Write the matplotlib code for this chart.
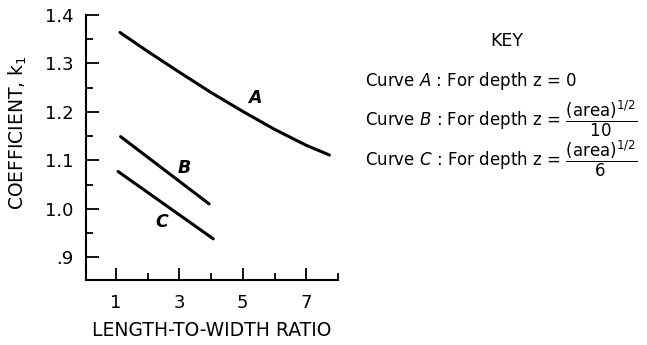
import numpy as np
import matplotlib
matplotlib.use("Agg")
import matplotlib.pyplot as plt
from matplotlib.ticker import FixedLocator

plt.rcParams['font.family'] = ['DejaVu Sans']
plt.rcParams['mathtext.fontset'] = 'dejavusans'

# curve values
a_x = [1.13, 2.0, 3.0, 4.0, 5.0, 6.0, 7.0, 7.73]
a_y = [1.364, 1.325, 1.282, 1.240, 1.201, 1.164, 1.131, 1.111]
b_x = [1.15, 3.94]
b_y = [1.149, 1.010]
c_x = [1.07, 4.07]
c_y = [1.077, 0.938]

curve_labels = ['A', 'B', 'C']
label_pos = [(5.37, 1.228), (3.16, 1.085), (2.44, 0.973)]

x_ticks = [1, 3, 5, 7]
y_ticks = [0.9, 1.0, 1.1, 1.2, 1.3, 1.4]
y_ticklabels = ['.9', '1.0', '1.1', '1.2', '1.3', '1.4']

W, H = 647, 345
fig = plt.figure(figsize=(W / 100, H / 100), dpi=100)
ax = fig.add_axes([86 / W, 1 - 280 / H, (338 - 86) / W, (280 - 15) / H])

for xs, ys in [(a_x, a_y), (b_x, b_y), (c_x, c_y)]:
    ax.plot(xs, ys, color='black', lw=2.2, solid_capstyle='round',
            solid_joinstyle='round')

for lab, (lx, ly) in zip(curve_labels, label_pos):
    ax.text(lx, ly, lab, fontsize=12.5, style='italic', fontweight='bold',
            ha='center', va='center')

ax.set_xlim(0.06, 8.0)
ax.set_ylim(0.853, 1.4)
ax.spines['top'].set_visible(False)
ax.spines['right'].set_visible(False)
ax.spines['left'].set_linewidth(1.5)
ax.spines['bottom'].set_linewidth(1.5)

ax.xaxis.set_major_locator(FixedLocator(x_ticks))
ax.xaxis.set_minor_locator(FixedLocator([2, 4, 6, 8]))
ax.set_yticks(y_ticks)
ax.set_yticklabels(y_ticklabels)
ax.yaxis.set_minor_locator(FixedLocator([0.95, 1.05, 1.15, 1.25, 1.35]))
ax.tick_params(which='major', direction='in', length=9, width=1.3,
               labelsize=13, pad=9)
ax.tick_params(which='minor', direction='in', length=5, width=1.3)
ax.tick_params(axis='x', which='major', pad=10)

ax.set_xlabel('LENGTH-TO-WIDTH RATIO', fontsize=13.5)
ax.xaxis.set_label_coords(0.5, -0.155)
ax.xaxis.label.set_va('top')
ax.set_ylabel(r'COEFFICIENT, k$_1$', fontsize=13.5)
ax.yaxis.set_label_coords(-0.228, 0.555)

# key
fig.text(507 / W, 1 - 41 / H, 'KEY', fontsize=12.5, ha='center', va='center')
fig.text(365 / W, 1 - 81 / H, r'Curve $\it{A}$ : For depth z = 0',
         fontsize=12, ha='left', va='center')
fig.text(365 / W, 1 - 119 / H,
         r'Curve $\it{B}$ : For depth z = $\dfrac{(\mathrm{area})^{1/2}}{10}$',
         fontsize=12, ha='left', va='center')
fig.text(365 / W, 1 - 159 / H,
         r'Curve $\it{C}$ : For depth z = $\dfrac{(\mathrm{area})^{1/2}}{6}$',
         fontsize=12, ha='left', va='center')

fig.savefig('out.png', dpi=100)
